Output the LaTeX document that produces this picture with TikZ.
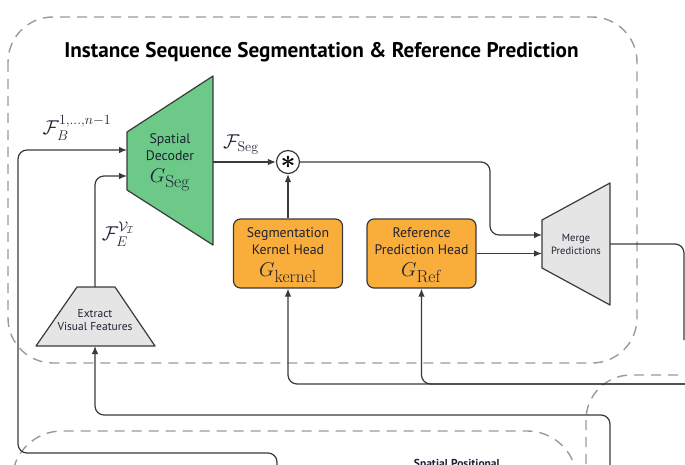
\documentclass[tikz,border=0pt]{standalone}
\usepackage{fix-cm}
\usepackage[no-math]{fontspec}
\setmainfont{PT Sans}
\usepackage{amsmath,amssymb}
\usetikzlibrary{arrows.meta,calc}
\definecolor{dgreen}{HTML}{6CC988}
\definecolor{horange}{HTML}{F9AD3A}
\definecolor{lgray}{HTML}{E5E5E5}
\definecolor{dashgray}{HTML}{9A9A9A}
\definecolor{linegray}{HTML}{3A3A3A}
\definecolor{txt}{HTML}{1E2033}
\newcommand{\gname}[1]{{\fontsize{20}{20}\selectfont$G_{\mbox{\fontsize{17.5}{17.5}\selectfont$\mathrm{#1}$}}$}}
\begin{document}
\begin{tikzpicture}[x=1pt,y=-1pt,
  dashbox/.style={draw=dashgray, line width=1.4pt, dash pattern=on 10pt off 7pt, rounded corners=45pt},
  conn/.style={draw=linegray, line width=1.2pt, rounded corners=9pt},
  arr/.style={conn, -{Latex[length=8pt,width=6.5pt]}},
  shapeline/.style={draw=linegray, line width=1.2pt, line join=round},
  headbox/.style={shapeline, fill=horange, rounded corners=7pt, minimum width=109pt, minimum height=69pt, inner sep=0pt},
  lbl/.style={text=txt, font=\fontsize{13.8}{17}\selectfont, align=center, inner sep=0pt},
  smalllbl/.style={text=txt, font=\fontsize{11.5}{13.5}\selectfont, align=center, inner sep=0pt},
  mathlbl/.style={text=txt, inner sep=0pt, font=\fontsize{20}{20}\selectfont}
]
\useasboundingbox (0,0) rectangle (685,465);
\clip (0,0) rectangle (685,465);

% dashed group frames
\draw[dashbox] (8,17) rectangle (637,363);
\draw[dashbox, rounded corners=50pt] (12,431) rectangle (577,530);
\draw[dashbox] (586,375) rectangle (790,600);

% title
\node[anchor=base, text=black, inner sep=0pt, font=\fontsize{21.2}{22}\selectfont\bfseries] (title) at (321.5,58)
  {Instance Sequence Segmentation \& Reference Prediction};

% spatial decoder (trapezoid)
\draw[shapeline, fill=dgreen] (127,132) -- (213,76) -- (213,245) -- (127,190) -- cycle;
\coordinate (decIn1) at (127,150);
\coordinate (decIn2) at (127,176);
\coordinate (decOut) at (213,162);
\node[lbl] (dec) at (170,162) {Spatial\\Decoder\\[5pt]\gname{Seg}};

% merge predictions (trapezoid)
\draw[shapeline, fill=lgray] (542,220) -- (610,183) -- (610,305) -- (542,268) -- cycle;
\coordinate (mIn1) at (542,235);
\coordinate (mIn2) at (542,253.5);
\coordinate (mOut) at (610,244);
\node[smalllbl, font=\fontsize{10.5}{13}\selectfont] (merge) at (576,244) {Merge\\Predictions};

% extract visual features (trapezoid)
\draw[shapeline, fill=lgray] (77,287) -- (115,287) -- (155,346) -- (36,346) -- cycle;
\coordinate (extTop) at (95,287);
\coordinate (extBot) at (95,346);
\node[smalllbl] (ext) at (95,320) {Extract\\Visual Features};

% heads
\node[headbox] (kern) at (288,253.5) {};
\node[lbl] (kernT) at ([yshift=-1.5pt]kern.center) {Segmentation\\Kernel Head\\[5pt]\gname{kernel}};
\node[headbox] (ref) at (421.5,253.5) {};
\node[lbl] (refT) at ([yshift=-1.5pt]ref.center) {Reference\\Prediction Head\\[5pt]\gname{Ref}};

% multiplication
\node[circle, shapeline, fill=white, minimum size=23pt, inner sep=0pt] (mul) at (288,162) {};
\node[inner sep=0pt, text=black] (mulsym) at (288,162.5) {\fontsize{26}{26}\selectfont$\boldsymbol{\ast}$};

% labels
\node[mathlbl] (fb) at (77,128) {$\mathcal{F}_B^{1,\ldots,n-1}$};
\node[mathlbl] (fe) at (118,234) {$\mathcal{F}_E^{\mathcal{V}_{\mathcal{I}}}$};
\node[mathlbl] (fseg) at (241,145) {$\mathcal{F}_{\mathrm{Seg}}$};

% connectors
\draw[arr] (decOut) -- (mul.west);
\draw[arr] (kern.north) -- (mul.south);
\draw[arr] (mul.east) -- (490,162) -- (490,235) -- (mIn1);
\draw[arr] (ref.east) -- (mIn2);
\draw[conn] (mOut) -- (684,244) -- (684,340);
\draw[arr] (700,384) -| (kern.south);
\draw[arr] (700,384) -| (ref.south);
\draw[arr] (610,480) -- (610,415) -- (95,415) -- (extBot);
\draw[arr] (extTop) -- (95,176) -- (decIn2);
\draw[arr] (277,480) -- (277,453) -- (18,453) -- (18,150) -- (decIn1);

% bottom (cut-off) group label
\node[anchor=base, text=txt, inner sep=0pt, font=\fontsize{11.5}{12}\selectfont\bfseries] (sp) at (457,467) {Spatial Positional};
\end{tikzpicture}
\end{document}
